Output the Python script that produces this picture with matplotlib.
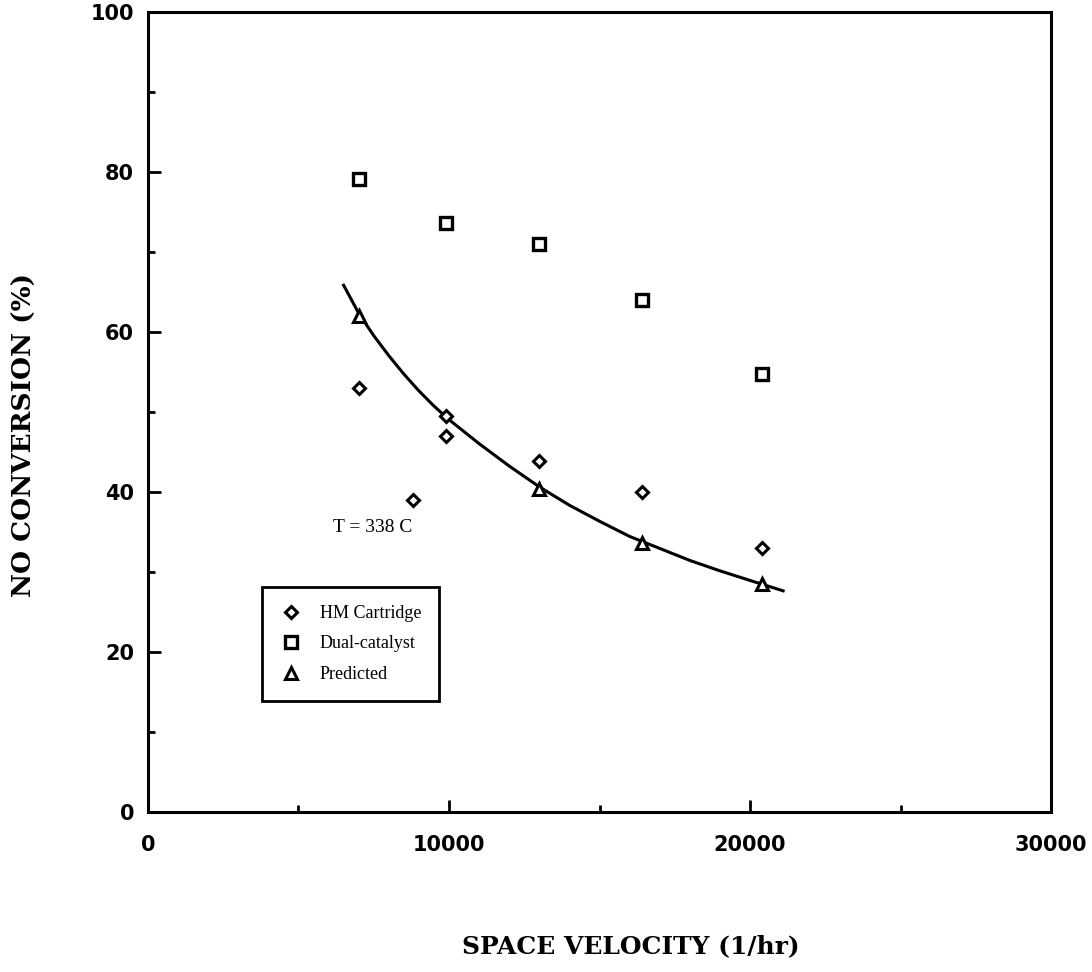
import matplotlib
matplotlib.use("Agg")
import matplotlib.pyplot as plt
from matplotlib.ticker import MultipleLocator

# values
hm_x = [7000, 8800, 9900, 9900, 13000, 16400, 20400]
hm_y = [53.0, 38.9, 49.4, 46.9, 43.8, 39.9, 32.9]

dual_x = [7000, 9900, 13000, 16400, 20400]
dual_y = [79.1, 73.6, 71.0, 63.9, 54.7]

pred_x = [7000, 13000, 16400, 20400]
pred_y = [62.0, 40.3, 33.6, 28.4]

curve_x = [6500, 7000, 7500, 8000, 8500, 9000, 9500, 10000, 11000, 12000, 13000,
           14000, 15000, 16000, 17000, 18000, 19000, 20000, 21100]
curve_y = [65.8, 62.3, 59.5, 57.0, 54.7, 52.6, 50.7, 49.0, 46.0, 43.2, 40.6,
           38.3, 36.3, 34.4, 32.9, 31.4, 30.1, 28.9, 27.6]

fig = plt.figure(figsize=(10.92, 9.72), dpi=100)
ax = fig.add_axes([0.1355, 0.165, 0.827, 0.823])

ax.plot(curve_x, curve_y, color="black", lw=2.2)
h1, = ax.plot(hm_x, hm_y, "D", ms=6, mfc="white", mec="black", mew=2.2, ls="none")
h2, = ax.plot(dual_x, dual_y, "s", ms=9, mfc="white", mec="black", mew=2.4, ls="none")
h3, = ax.plot(pred_x, pred_y, "^", ms=8, mfc="white", mec="black", mew=2.2, ls="none")

ax.set_xlim(0, 30000)
ax.set_ylim(0, 100)
ax.xaxis.set_major_locator(MultipleLocator(10000))
ax.xaxis.set_minor_locator(MultipleLocator(5000))
ax.yaxis.set_major_locator(MultipleLocator(20))
ax.yaxis.set_minor_locator(MultipleLocator(10))

for s in ax.spines.values():
    s.set_linewidth(2.2)

ax.tick_params(which="both", direction="in", width=2, top=False, right=False)
ax.tick_params(which="major", length=9)
ax.tick_params(which="minor", length=5)
ax.tick_params(axis="x", which="major", pad=17)
ax.tick_params(axis="y", which="major", pad=10)

for lab in ax.get_xticklabels() + ax.get_yticklabels():
    lab.set_fontfamily("DejaVu Sans")
    lab.set_fontweight("bold")
    lab.set_fontsize(15)

lab_font = dict(family="DejaVu Serif", weight="bold")
fig.text(0.578, 0.027, "SPACE VELOCITY (1/hr)", ha="center", va="center", size=18, **lab_font)
fig.text(0.022, 0.552, "NO CONVERSION (%)", rotation=90, ha="center", va="center", size=19, **lab_font)

ax.text(6150, 35.5, "T = 338 C", ha="left", va="center",
        family="Liberation Serif", size=14)

leg = ax.legend([h1, h2, h3], ["HM Cartridge", "Dual-catalyst", "Predicted"],
                loc="upper left", bbox_to_anchor=(0.126, 0.281),
                prop=dict(family="Liberation Serif", size=13),
                fancybox=False, edgecolor="black", framealpha=1,
                borderpad=1.0, labelspacing=0.75, handletextpad=1.0,
                handlelength=1.2, borderaxespad=0)
leg.get_frame().set_linewidth(2)

fig.savefig("out.png", dpi=100)
